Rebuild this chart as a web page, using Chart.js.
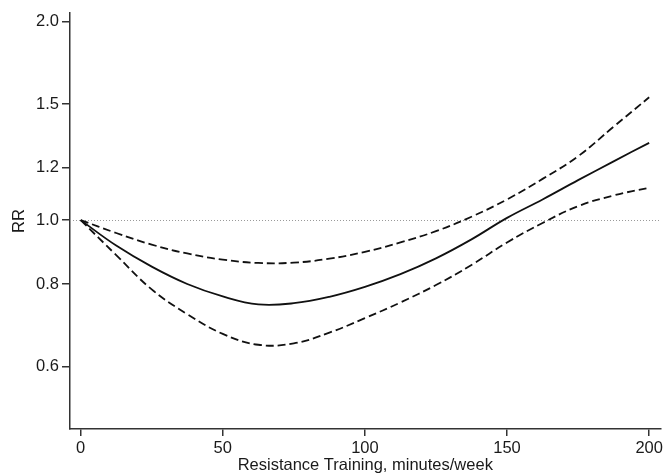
<!DOCTYPE html>
<html>
<head>
<meta charset="utf-8">
<script src="https://cdn.jsdelivr.net/npm/chart.js@4.4.1/dist/chart.umd.min.js"></script>
<style>
  html, body { margin: 0; padding: 0; background: #fff; }
  #wrap { width: 666px; height: 475px; position: relative; }
</style>
</head>
<body>
<div id="wrap"><canvas id="c"></canvas></div>
<script>
// Resistance training (minutes/week) vs relative risk
const minutes = [0, 12.5, 25, 37.5, 50, 62.5, 75, 87.5, 100, 112.5, 125, 137.5, 150, 162.5, 175, 187.5, 200];
const rrEstimate = [1.0, 0.915, 0.85, 0.8, 0.766, 0.745, 0.748, 0.765, 0.792, 0.828, 0.875, 0.935, 1.008, 1.075, 1.15, 1.228, 1.31];
const rrUpper = [1.0, 0.956, 0.918, 0.89, 0.871, 0.861, 0.862, 0.874, 0.895, 0.925, 0.962, 1.012, 1.075, 1.155, 1.25, 1.386, 1.536];
const rrLower = [1.0, 0.885, 0.785, 0.72, 0.672, 0.647, 0.65, 0.675, 0.71, 0.75, 0.797, 0.855, 0.925, 0.99, 1.05, 1.09, 1.12];

const xTicks = [0, 50, 100, 150, 200];
const yTicks = [0.6, 0.8, 1.0, 1.2, 1.5, 2.0];
const refValue = 1.0;

const FONT = "'Liberation Sans', Arial, sans-serif";
Chart.defaults.font.family = FONT;
Chart.defaults.color = "#1a1a1a";

const toPoints = arr => arr.map((v, i) => ({ x: minutes[i], y: v }));

// dotted reference line at RR = 1
const refLine = {
  id: "refLine",
  beforeDatasetsDraw(chart) {
    const { ctx, chartArea, scales } = chart;
    const y = Math.round(scales.y.getPixelForValue(refValue)) + 0.5;
    ctx.save();
    ctx.strokeStyle = "#9a9a9a";
    ctx.lineWidth = 1;
    ctx.setLineDash([1, 2]);
    ctx.beginPath();
    ctx.moveTo(chartArea.left, y);
    ctx.lineTo(chartArea.right, y);
    ctx.stroke();
    ctx.restore();
  }
};

const lineStyle = {
  borderColor: "#111",
  borderWidth: 1.8,
  pointRadius: 0,
  tension: 0.4,
  fill: false
};

new Chart(document.getElementById("c"), {
  type: "line",
  data: {
    datasets: [
      { ...lineStyle, label: "RR", data: toPoints(rrEstimate) },
      { ...lineStyle, label: "Upper", data: toPoints(rrUpper), borderDash: [8, 4] },
      { ...lineStyle, label: "Lower", data: toPoints(rrLower), borderDash: [8, 4] }
    ]
  },
  options: {
    responsive: true,
    maintainAspectRatio: false,
    animation: false,
    layout: { padding: { top: 13, right: 4, left: 0, bottom: 0 } },
    plugins: { legend: { display: false }, tooltip: { enabled: false } },
    scales: {
      x: {
        type: "linear",
        min: -3.75,
        max: 204,
        afterBuildTicks: s => { s.ticks = xTicks.map(v => ({ value: v })); },
        afterFit: s => { s.height = 46; },
        border: { display: true, color: "#333", width: 1.5 },
        grid: { drawOnChartArea: false, drawTicks: true, tickLength: 7, color: "#333", lineWidth: 1.5 },
        ticks: { font: { size: 16.5 }, color: "#1a1a1a", padding: 3, maxRotation: 0 },
        title: {
          display: true,
          text: "Resistance Training, minutes/week",
          font: { size: 16.5 },
          color: "#1a1a1a",
          padding: { top: 0, bottom: 0 }
        }
      },
      y: {
        type: "logarithmic",
        min: 0.482,
        max: 2.062,
        afterBuildTicks: s => { s.ticks = yTicks.map(v => ({ value: v })); },
        afterFit: s => { s.width = 70; },
        border: { display: true, color: "#333", width: 1.5 },
        grid: { drawOnChartArea: false, drawTicks: true, tickLength: 8, color: "#333", lineWidth: 1.5 },
        ticks: {
          font: { size: 16.5 },
          color: "#1a1a1a",
          padding: 3,
          callback: v => Number(v).toFixed(1)
        },
        title: {
          display: true,
          text: "RR",
          font: { size: 16.5 },
          color: "#1a1a1a",
          padding: { top: 10, bottom: 0 }
        }
      }
    }
  },
  plugins: [refLine]
});
</script>
</body>
</html>
